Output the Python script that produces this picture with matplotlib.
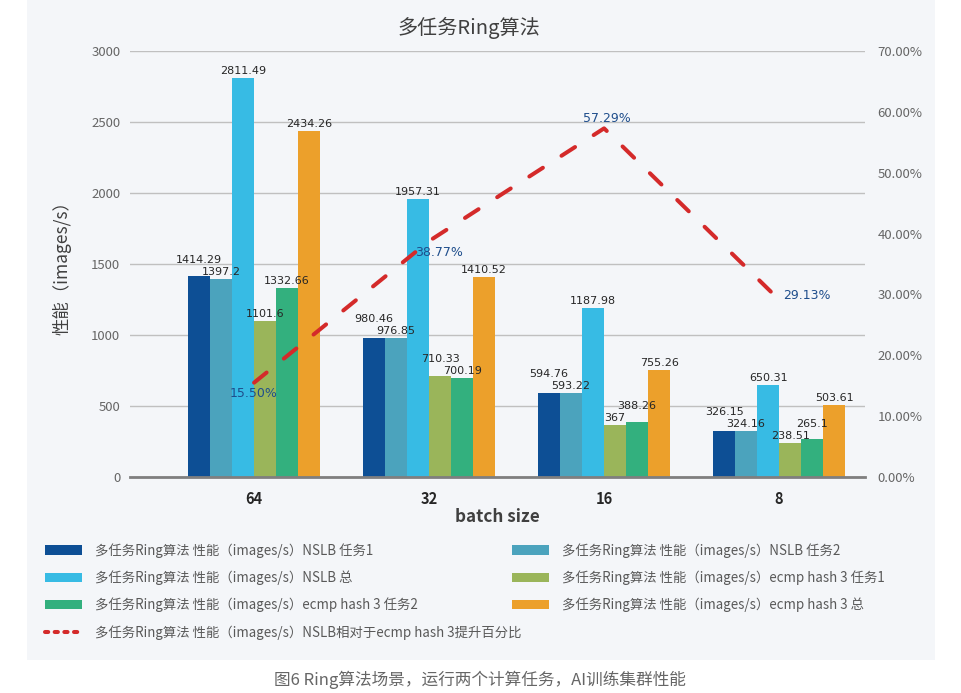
import matplotlib
matplotlib.use('Agg')
import matplotlib.pyplot as plt
from matplotlib.patches import Rectangle, Patch
from matplotlib.lines import Line2D
from matplotlib.ticker import FuncFormatter
import numpy as np

plt.rcParams['font.family'] = ['Noto Sans CJK SC', 'DejaVu Sans']

# ---------------- data ----------------
categories = ['64', '32', '16', '8']
nslb_task1 = [1414.29, 980.46, 594.76, 326.15]
nslb_task2 = [1397.2, 976.85, 593.22, 324.16]
nslb_total = [2811.49, 1957.31, 1187.98, 650.31]
ecmp_task1 = [1101.6, 710.33, 367, 238.51]
ecmp_task2 = [1332.66, 700.19, 388.26, 265.1]
ecmp_total = [2434.26, 1410.52, 755.26, 503.61]
improvement_pct = [15.50, 38.77, 57.29, 29.13]

series_labels = [
    '多任务Ring算法 性能（images/s）NSLB 任务1',
    '多任务Ring算法 性能（images/s）NSLB 任务2',
    '多任务Ring算法 性能（images/s）NSLB 总',
    '多任务Ring算法 性能（images/s）ecmp hash 3 任务1',
    '多任务Ring算法 性能（images/s）ecmp hash 3 任务2',
    '多任务Ring算法 性能（images/s）ecmp hash 3 总',
]
line_label = '多任务Ring算法 性能（images/s）NSLB相对于ecmp hash 3提升百分比'
title = '多任务Ring算法'
caption = '图6 Ring算法场景，运行两个计算任务，AI训练集群性能'

series = [nslb_task1, nslb_task2, nslb_total, ecmp_task1, ecmp_task2, ecmp_total]
colors = ['#0d4f95', '#4ba3bd', '#37bbe4', '#9ab55a', '#33b07e', '#eca02b']
line_color = '#d42a2a'

# ---------------- figure ----------------
W, H = 961, 693
fig = plt.figure(figsize=(W / 100, H / 100), dpi=100, facecolor='white')
fig.patches.append(Rectangle((27 / W, 1 - 660 / H), (935 - 27) / W, 660 / H,
                             transform=fig.transFigure, facecolor='#f4f6f9',
                             edgecolor='none', zorder=-10))

ax_l, ax_r, ax_t, ax_b = 130, 865, 51, 477
ax = fig.add_axes([ax_l / W, 1 - ax_b / H, (ax_r - ax_l) / W, (ax_b - ax_t) / H])
ax.set_facecolor('none')

x = np.arange(len(categories))
w = 0.1257
ax.set_xlim(-0.709, 3.491)
ax.set_ylim(0, 3000)
ax.set_yticks(np.arange(0, 3001, 500))

for i, vals in enumerate(series):
    ax.bar(x + (i - 2.5) * w, vals, w, color=colors[i], zorder=3, linewidth=0)

# data labels with simple collision avoidance
px_per_unit = (ax_b - ax_t) / 3000.0
base = 2
for g in range(len(categories)):
    offs = [base] * len(series)
    for i in range(len(series) - 1):
        a, b_ = series[i][g], series[i + 1][g]
        diff = abs(a - b_) * px_per_unit
        if diff < 12:
            hi = i if a >= b_ else i + 1
            offs[hi] = base + (12 - diff)
    for i in range(len(series)):
        v = series[i][g]
        ax.annotate(f'{v:g}', xy=(x[g] + (i - 2.5) * w, v), xytext=(0, offs[i]),
                    textcoords='offset pixels', ha='center', va='bottom',
                    fontsize=8, color='#262626', zorder=6,
                    family=['DejaVu Sans'])

ax.yaxis.grid(True, color='#c0c0c0', linewidth=1, zorder=0)
ax.set_axisbelow(True)
for s in ['left', 'right', 'top']:
    ax.spines[s].set_visible(False)
ax.spines['bottom'].set_color('#7f7f7f')
ax.spines['bottom'].set_linewidth(2)
ax.spines['bottom'].set_zorder(4)

ax.set_xticks(x)
ax.set_xticklabels(categories, fontsize=10.5, fontweight='bold', color='#262626')
ax.tick_params(axis='x', length=0, pad=10)
ax.tick_params(axis='y', length=0, pad=7, labelsize=9.5, labelcolor='#666666')
ax.set_xlabel('batch size', fontsize=12.3, fontweight='bold', color='#404040', labelpad=1)
ax.set_ylabel('性能（images/s）', fontsize=12.5, color='#404040')
ax.yaxis.set_label_coords((72 - ax_l) / (ax_r - ax_l), 0.5)

# right axis
ax2 = ax.twinx()
ax2.set_ylim(0, 70)
ax2.set_yticks(np.arange(0, 71, 10))
ax2.yaxis.set_major_formatter(FuncFormatter(lambda v, p: f'{v:.2f}%'))
ax2.tick_params(axis='y', length=0, pad=9, labelsize=9.5, labelcolor='#666666')
for s in ax2.spines.values():
    s.set_visible(False)

ax2.plot(x, improvement_pct, color=line_color, linewidth=2.9, dashes=(4, 5.5),
         dash_capstyle='round', solid_capstyle='round', zorder=5)

label_offsets = [(0, -11, 'center'), (10, -11, 'center'), (3, 10, 'center'), (4, 4, 'left')]
for xi, v, (dx, dy, ha) in zip(x, improvement_pct, label_offsets):
    ax2.annotate(f'{v:.2f}%', xy=(xi, v), xytext=(dx, dy), textcoords='offset pixels',
                 ha=ha, va='center', fontsize=9, color='#1f4e8c', zorder=7,
                 family=['DejaVu Sans'])

# title & caption
fig.text(469 / W, 1 - 28 / H, title, ha='center', va='center', fontsize=14.5, color='#404040')
fig.text(480 / W, 1 - 680 / H, caption, ha='center', va='center', fontsize=12, color='#666666')

# legends
patches = [Patch(facecolor=c, edgecolor='none', label=l) for c, l in zip(colors, series_labels)]
line_handle = Line2D([], [], color=line_color, linewidth=2.9, dashes=(0.8, 1.6),
                     dash_capstyle='round', label=line_label)
leg_kw = dict(frameon=False, fontsize=9.6, labelcolor='#595959', handlelength=2.77,
              handletextpad=0.98, borderpad=0, borderaxespad=0, labelspacing=0.95,
              loc='upper left')
col1 = [patches[0], patches[2], patches[4], line_handle]
col2 = [patches[1], patches[3], patches[5]]
fig.legend(handles=col1, bbox_to_anchor=(45 / W, 1 - 543 / H), **leg_kw)
fig.legend(handles=col2, bbox_to_anchor=(512 / W, 1 - 543 / H), **leg_kw)

fig.savefig('out.png', dpi=100, facecolor='white')
